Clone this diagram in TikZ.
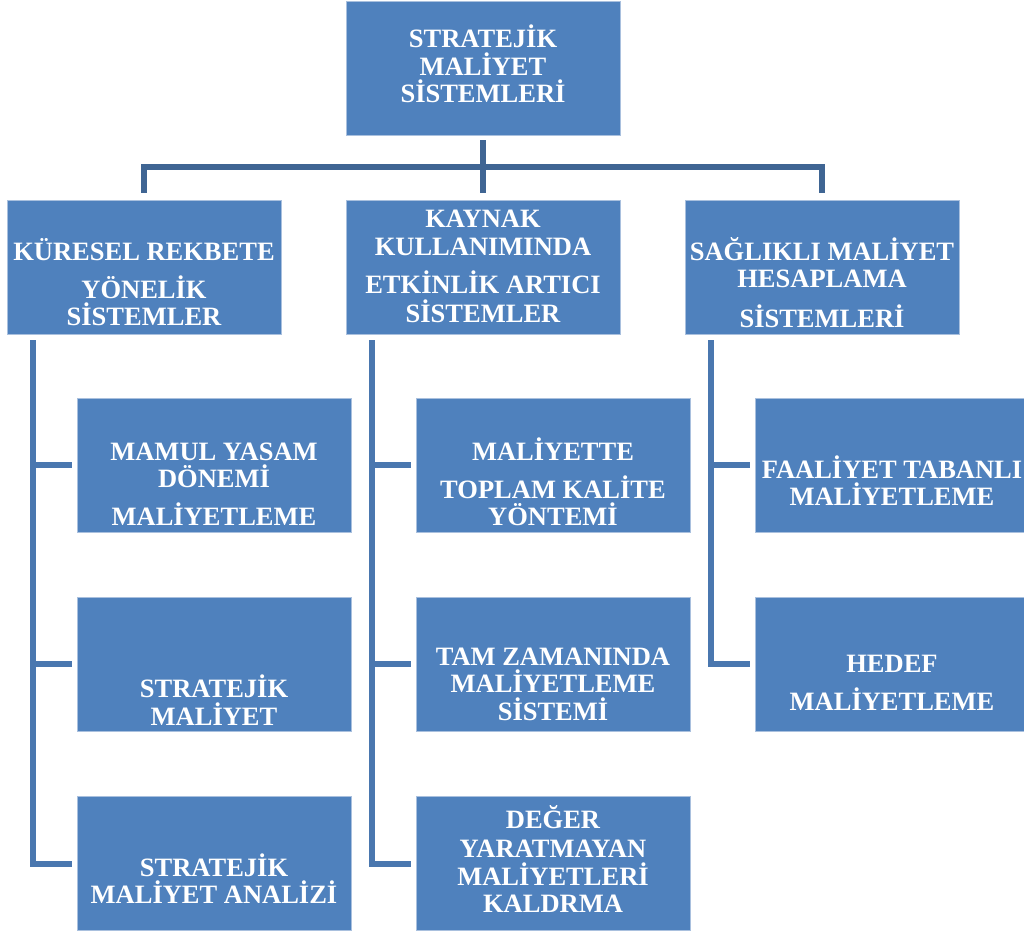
\documentclass[tikz,border=0pt]{standalone}
\usepackage{fontspec}
\setmainfont{Liberation Serif}
\definecolor{boxfill}{HTML}{4F81BD}
\definecolor{boxedge}{HTML}{A9C0DE}
\definecolor{treecol}{HTML}{3F6593}
\definecolor{sidecol}{HTML}{4A77AF}
\begin{document}
\begin{tikzpicture}[x=1pt,y=-1pt,
  box/.style={rectangle, fill=boxfill, draw=boxedge, line width=0.8pt, inner sep=0pt,
    minimum width=274pt, minimum height=134pt},
  txt/.style={anchor=base, inner sep=0pt, text=white,
    font=\fontsize{26.5}{28}\selectfont\bfseries},
  tree/.style={draw=treecol, line width=6pt},
  side/.style={draw=sidecol, line width=6pt}]
\useasboundingbox (0,0) rectangle (1024,932);

% boxes
\node[box] (top) at (483,68) {};
\node[box] (k1) at (144,267) {};
\node[box] (k2) at (483,267) {};
\node[box] (k3) at (822,267) {};
\node[box] (c11) at (214,465) {};
\node[box] (c12) at (214,664) {};
\node[box] (c13) at (214,863.5) {};
\node[box] (c21) at (553,465) {};
\node[box] (c22) at (553,664) {};
\node[box] (c23) at (553,863.5) {};
\node[box] (c31) at (892,465) {};
\node[box] (c32) at (892,664) {};

% texts
\node[txt] (top-a) at (483,47) {STRATEJİK};
\node[txt] (top-b) at (483,75) {MALİYET};
\node[txt] (top-c) at (483,102) {SİSTEMLERİ};

\node[txt] (k1-a) at (144,260) {KÜRESEL REKBETE};
\node[txt] (k1-b) at (144,298) {YÖNELİK};
\node[txt] (k1-c) at (144,325) {SİSTEMLER};

\node[txt] (k2-a) at (483,227) {KAYNAK};
\node[txt] (k2-b) at (483,255) {KULLANIMINDA};
\node[txt] (k2-c) at (483,293) {ETKİNLİK ARTICI};
\node[txt] (k2-d) at (483,322) {SİSTEMLER};

\node[txt] (k3-a) at (822,260) {SAĞLIKLI MALİYET};
\node[txt] (k3-b) at (822,287) {HESAPLAMA};
\node[txt] (k3-c) at (822,327) {SİSTEMLERİ};

\node[txt] (c11-a) at (214,460) {MAMUL YASAM};
\node[txt] (c11-b) at (214,487) {DÖNEMİ};
\node[txt] (c11-c) at (214,525) {MALİYETLEME};

\node[txt] (c12-a) at (214,697) {STRATEJİK};
\node[txt] (c12-b) at (214,725) {MALİYET};

\node[txt] (c13-a) at (214,876) {STRATEJİK};
\node[txt] (c13-b) at (214,903) {MALİYET ANALİZİ};

\node[txt] (c21-a) at (553,460) {MALİYETTE};
\node[txt] (c21-b) at (553,498) {TOPLAM KALİTE};
\node[txt] (c21-c) at (553,525) {YÖNTEMİ};

\node[txt] (c22-a) at (553,665) {TAM ZAMANINDA};
\node[txt] (c22-b) at (553,692) {MALİYETLEME};
\node[txt] (c22-c) at (553,720) {SİSTEMİ};

\node[txt] (c23-a) at (553,828) {DEĞER};
\node[txt] (c23-b) at (553,857) {YARATMAYAN};
\node[txt] (c23-c) at (553,885) {MALİYETLERİ};
\node[txt] (c23-d) at (553,912) {KALDRMA};

\node[txt] (c31-a) at (892,478) {FAALİYET TABANLI};
\node[txt] (c31-b) at (892,505) {MALİYETLEME};

\node[txt] (c32-a) at (892,672) {HEDEF};
\node[txt] (c32-b) at (892,710) {MALİYETLEME};

% top tree
\coordinate (hub) at (483,167);
\draw[tree] ([yshift=-5pt]top.south) -- ([yshift=7pt]k2.north);
\draw[tree] ([yshift=7pt]k1.north) |- (hub) -| ([yshift=7pt]k3.north);

% side lines
\coordinate (v1) at ([shift={(26pt,-6pt)}]k1.south west);
\coordinate (v2) at ([shift={(26pt,-6pt)}]k2.south west);
\coordinate (v3) at ([shift={(26pt,-6pt)}]k3.south west);

\draw[side] (v1) |- ([xshift=-5pt]c13.west);
\draw[side] (v1 |- c11.west) -- ([xshift=-5pt]c11.west);
\draw[side] (v1 |- c12.west) -- ([xshift=-5pt]c12.west);

\draw[side] (v2) |- ([xshift=-5pt]c23.west);
\draw[side] (v2 |- c21.west) -- ([xshift=-5pt]c21.west);
\draw[side] (v2 |- c22.west) -- ([xshift=-5pt]c22.west);

\draw[side] (v3) |- ([xshift=-5pt]c32.west);
\draw[side] (v3 |- c31.west) -- ([xshift=-5pt]c31.west);
\end{tikzpicture}
\end{document}
